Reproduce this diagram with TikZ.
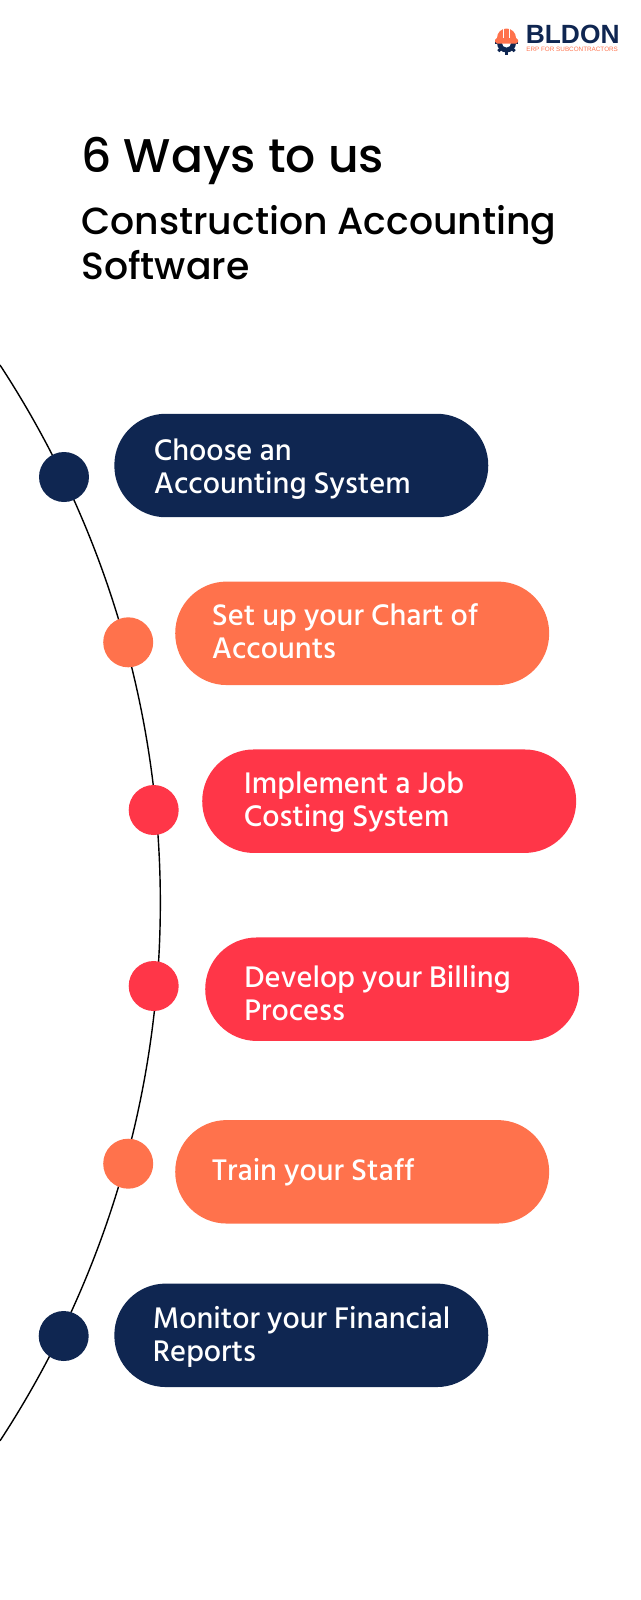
\documentclass[tikz,border=0pt]{standalone}
\usepackage{fontspec}
\setmainfont{Hind Siliguri Medium}
\newfontfamily\HeadFont{Poppins Medium}
\newfontfamily\LogoFont{Liberation Sans}
\definecolor{NavyClr}{HTML}{0F2651}
\definecolor{OrangeClr}{HTML}{FF724C}
\definecolor{RedClr}{HTML}{FF3648}
\tikzset{
  PillBox/.style={minimum width=7.48cm,minimum height=2.07cm,rounded corners=1.03cm,inner sep=0pt},
  DotBox/.style={circle,minimum size=1cm,inner sep=0pt},
  PillText/.style={anchor=base west,align=left,inner sep=0pt,text=white,font=\fontsize{17.4}{18.6}\selectfont},
}

\begin{document}
\begin{tikzpicture}[x=.02cm,y=-.02cm]
\useasboundingbox (0,0) rectangle (640,1600);

% logo
\foreach \ang in {0,45,90,135,180}
  \draw[NavyClr,line width=1.7pt] (506.5,43) -- ++(\ang:11.5);
\fill[NavyClr] (506.5,43) circle[radius=9.5];
\fill[white] (506.5,43) circle[radius=4.5];
\fill[OrangeClr,rounded corners=1pt] (495,38) rectangle (518,43.5);
\fill[OrangeClr] (497,38) arc[start angle=180,end angle=360,radius=9.5] -- cycle;
\draw[white,line width=.4pt] (503.5,38) -- (503.5,29) (509.5,29) -- (509.5,38);
\node[anchor=base west,inner sep=0pt,text=NavyClr,font=\LogoFont\bfseries\fontsize{15}{15}\selectfont] (LogoName) at (525.5,43) {BLDON};
\node[anchor=base west,inner sep=0pt,text=OrangeClr,font=\LogoFont\fontsize{3.6}{4}\selectfont] (LogoSub) at (526,51) {ERP FOR SUBCONTRACTORS};

% heading
\node[anchor=base west,inner sep=0pt,font=\HeadFont\fontsize{26.9}{26}\selectfont] (TitleTop) at (81,172.7) {6 Ways to us};
\node[anchor=base west,inner sep=0pt,font=\HeadFont\fontsize{21.5}{22}\selectfont] (TitleMid) at (81,234) {Construction Accounting};
\node[anchor=base west,inner sep=0pt,font=\HeadFont\fontsize{21.5}{22}\selectfont] (TitleLow) at (81,279) {Software};

% curve
\coordinate (ArcTop) at (0,365);
\draw[black,line width=.8pt] (ArcTop) arc[start angle=-33.2,end angle=33.2,radius=982.4];

\node[DotBox,fill=NavyClr] (DotA) at (64,477) {};
\node[DotBox,fill=OrangeClr] (DotB) at (128.2,642.3) {};
\node[DotBox,fill=RedClr] (DotC) at (153.7,810) {};
\node[DotBox,fill=RedClr] (DotD) at (153.7,986) {};
\node[DotBox,fill=OrangeClr] (DotE) at (128.2,1163.7) {};
\node[DotBox,fill=NavyClr] (DotF) at (63.7,1336) {};

\node[PillBox,fill=NavyClr] (PillA) at (301.3,465.5) {};
\node[PillBox,fill=OrangeClr] (PillB) at (362.2,633.3) {};
\node[PillBox,fill=RedClr] (PillC) at (389.2,801.2) {};
\node[PillBox,fill=RedClr] (PillD) at (392.2,989.2) {};
\node[PillBox,fill=OrangeClr] (PillE) at (362.2,1171.8) {};
\node[PillBox,fill=NavyClr] (PillF) at (301.3,1335.3) {};

\node[PillText] (TextA) at (153.5,493.5) {Choose an\\Accounting System};
\node[PillText] (TextB) at (211.5,658.5) {Set up your Chart of\\Accounts};
\node[PillText] (TextC) at (243.5,826.5) {Implement a Job\\Costing System};
\node[PillText] (TextD) at (244,1020.5) {Develop your Billing\\Process};
\node[PillText] (TextE) at (211.5,1180.5) {Train your Staff};
\node[PillText] (TextF) at (152.5,1361) {Monitor your Financial\\Reports};
\end{tikzpicture}
\end{document}
